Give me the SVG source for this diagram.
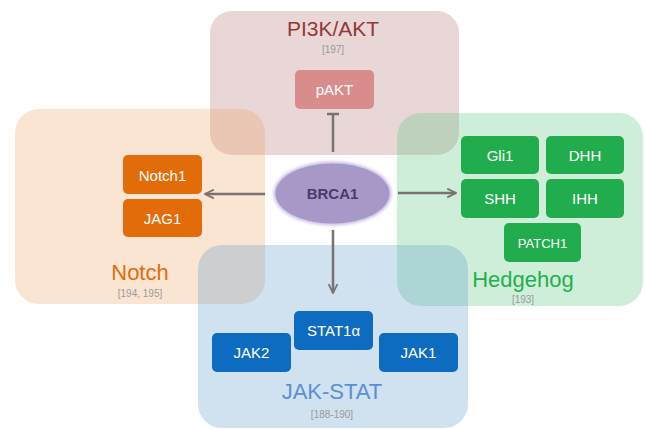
<svg xmlns="http://www.w3.org/2000/svg" width="645" height="430" viewBox="0 0 645 430">
<defs>
<style>
.grp{stroke:none}
.title{font-family:"Liberation Sans",Arial,sans-serif;font-size:22px;text-anchor:middle}
.ref{font-family:"Liberation Sans",Arial,sans-serif;font-size:10px;fill:#9a9a9a;text-anchor:middle}
.nt{font-family:"Liberation Sans",Arial,sans-serif;font-size:15px;fill:#ffffff;text-anchor:middle}
.conn{stroke:#7a7272;stroke-width:2.5;fill:none}
</style>
<marker id="arr" viewBox="0 0 10 10" refX="9" refY="5" markerWidth="4.4" markerHeight="4.4" orient="auto" markerUnits="strokeWidth">
<path d="M1,1 L9,5 L1,9" fill="none" stroke="#7a7272" stroke-width="1.6"/>
</marker>
<filter id="glow" x="-20%" y="-30%" width="140%" height="160%">
<feGaussianBlur stdDeviation="1.5"/>
</filter>
</defs>
<rect width="645" height="430" fill="#ffffff"/>
<g id="pi3k">
<rect class="grp" x="210" y="11" width="249" height="144" rx="22" fill="rgb(182,118,118)" fill-opacity="0.3"/>
<text class="title" x="333" y="36" fill="#953735" style="font-size:21px">PI3K/AKT</text>
<text class="ref" x="333" y="53">[197]</text>
</g>
<g id="notch">
<rect class="grp" x="15" y="109" width="250" height="195" rx="24" fill="rgb(238,165,105)" fill-opacity="0.3"/>
<text class="title" x="140" y="280" fill="#e46c0a">Notch</text>
<text class="ref" x="140" y="297">[194, 195]</text>
</g>
<g id="hedgehog">
<rect class="grp" x="397" y="113" width="246" height="193" rx="24" fill="rgb(92,198,132)" fill-opacity="0.3"/>
<text class="title" x="523" y="287" fill="#22b04e">Hedgehog</text>
<text class="ref" x="523" y="303">[193]</text>
</g>
<g id="jakstat">
<rect class="grp" x="198" y="245" width="270" height="183" rx="24" fill="rgb(98,155,205)" fill-opacity="0.3"/>
<text class="title" x="332" y="399" fill="#5b8fd0">JAK-STAT</text>
<text class="ref" x="332" y="418">[188-190]</text>
</g>
<g id="pAKT">
<rect x="295" y="70" width="79" height="39" rx="5" fill="#d98c8c"/>
<text class="nt" x="334.5" y="95">pAKT</text>
</g>
<g id="Notch1">
<rect x="123" y="155" width="79" height="39" rx="5" fill="#e26b0a"/>
<text class="nt" x="162.5" y="180.5">Notch1</text>
</g>
<g id="JAG1">
<rect x="123" y="199" width="79" height="38" rx="5" fill="#e26b0a"/>
<text class="nt" x="162.5" y="223.5">JAG1</text>
</g>
<g id="Gli1">
<rect x="461" y="136" width="78" height="38" rx="5" fill="#21ad4e"/>
<text class="nt" x="500" y="160.5">Gli1</text>
</g>
<g id="DHH">
<rect x="546" y="136" width="78" height="38" rx="5" fill="#21ad4e"/>
<text class="nt" x="585" y="160.5">DHH</text>
</g>
<g id="SHH">
<rect x="461" y="179" width="78" height="39" rx="5" fill="#21ad4e"/>
<text class="nt" x="500" y="204">SHH</text>
</g>
<g id="IHH">
<rect x="546" y="179" width="78" height="39" rx="5" fill="#21ad4e"/>
<text class="nt" x="585" y="204">IHH</text>
</g>
<g id="PATCH1">
<rect x="504" y="223" width="77" height="39" rx="5" fill="#21ad4e"/>
<text class="nt" x="542.5" y="247.5" style="font-size:13px">PATCH1</text>
</g>
<g id="STAT1a">
<rect x="294" y="311" width="79" height="39" rx="5" fill="#0d6cbf"/>
<text class="nt" x="333.5" y="336">STAT1α</text>
</g>
<g id="JAK2">
<rect x="212" y="333" width="79" height="39" rx="5" fill="#0d6cbf"/>
<text class="nt" x="251.5" y="358">JAK2</text>
</g>
<g id="JAK1">
<rect x="379" y="333" width="79" height="39" rx="5" fill="#0d6cbf"/>
<text class="nt" x="418.5" y="358">JAK1</text>
</g>
<g id="connectors">
<line class="conn" x1="333" y1="152" x2="333" y2="114"/>
<line class="conn" x1="327" y1="114" x2="339" y2="114"/>
<line class="conn" x1="265" y1="194" x2="205" y2="194" marker-end="url(#arr)"/>
<line class="conn" x1="398" y1="193" x2="456" y2="193" marker-end="url(#arr)"/>
<line class="conn" x1="333" y1="230" x2="333" y2="293" marker-end="url(#arr)"/>
</g>
<g id="BRCA1">
<ellipse cx="332.5" cy="193.5" rx="59" ry="32" fill="#cbbde3" filter="url(#glow)"/>
<ellipse cx="332.5" cy="193.5" rx="57" ry="30" fill="#a898c8"/>
<text x="332.5" y="198.5" text-anchor="middle" style="font-family:'Liberation Sans',Arial,sans-serif;font-size:15px;font-weight:bold;fill:#4a3a6c">BRCA1</text>
</g>
</svg>
